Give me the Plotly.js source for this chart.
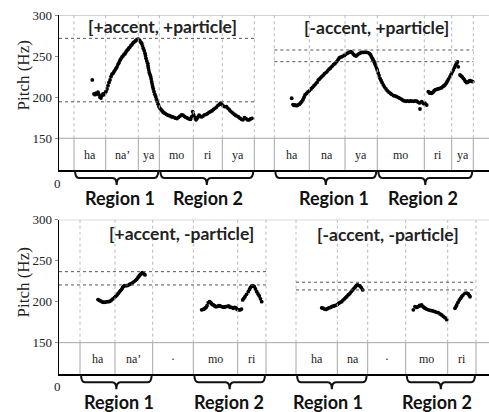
<!DOCTYPE html>
<html><head><meta charset="utf-8">
<script src="https://cdn.plot.ly/plotly-3.0.1.min.js"></script>
<style>html,body{margin:0;padding:0;background:#fff}#chart{width:489px;height:412px}</style>
</head><body><div id="chart"></div>
<script>
// ---------- DATA ----------
// Top-left panel [+accent, +particle]
const tlTime = [92.3,94,95,96,97,98,99,100,101,102,103,104,105,106,107,108,109,110,111,112,113,114,115,116,117,118,119,120,121,122,123,124,125,126,127,128,129,130,131,132,133,134,135,136,137,138,139,140,141,141.7,142.5,143.3,144.2,145,145.5,146,146.8,147.7,148,148.3,148.8,149.3,150,150.7,151.2,151.7,152.2,152.7,153.3,154,154.8,155.7,156.5,157.3,158.2,159,160,161,162,163,164,165,166.5,168,169.5,171,172.5,174,175.5,177,178.5,180,181.5,183,184.5,186,187.5,189,190.5,191.5,192.7,193.5,194.3,195,196,197,198,199,200,201.5,203,204.5,206,207.5,209,210.5,212,213.5,215,216.5,218,219.5,220.7,222,223.5,225,226.5,228,229.5,231,232.5,234,235.5,237,238.5,240,241.5,243,244.5,246,247.5,249,250.5,252];
const tlPitch = [221,204,203,205,204,206,203,200,199,202,204,203,205,207,210,214,218,221,225,228,229,231,233,235,237,240,242,245,247,249,250,252,253,255,257,258,260,261,263,264,266,267,268,269,270,270.5,270,268.5,266.5,265.6,262.5,259.5,256.5,253.4,250.5,247.3,244,241.2,238.5,235.9,233,229.8,227.5,225,222,218.9,216,212.8,210,206.7,203.5,200.6,197.5,194.5,191.5,188.5,186.5,185,183.5,182,181,180.4,179,178,177.5,176.5,176,175.5,174.5,174,175.5,177,178.5,178,176.5,175.5,174.5,173.5,173,176,182.4,179,176,175,172.5,174,176,178,177,176,177,178.5,179,180,181.5,182.5,183.5,185,186.5,188,190,191.5,192.6,191,189,188.5,188.5,186.5,184.5,182.5,181,179.5,178,177,176,174.5,173,172.5,175,174,172.5,172.3,173.5,174.3];
// Top-right panel [-accent, +particle]
const trTime = [291.7,293,294,295,296.5,298,299.5,300.5,301.7,303,304,305,306.5,308,309.5,311,312.5,314,315.5,317,318.3,319.5,320.5,321.7,323,324.5,326,327.5,329,330.5,332,333.5,335,336.7,338,339,340,341.5,343,344.5,346,347.5,349,350.7,352,353.3,354.5,356,357.5,359,360.5,362,363.5,365,366.5,368,369.5,370.7,371.5,372.5,373.3,374,374.8,375.6,376.5,377.3,378.2,379,380,381,382,383.3,384.5,386,387.3,389,390.5,391.7,393.5,395,396.7,398.5,400,401.7,403,404.5,406,407.5,409,410.5,412,413.5,415,416.7,418,419.5,420,421.7,423,424,425,426.7,428.3,429.5,430.5,431.7,433,434,435,436.5,438,439,440,441.5,443,444,445,446.2,447.3,448.5,450,451,452.2,453.3,454.5,455.5,456.7,457.5,458.3,460,461,462,463.3,464.5,465.5,466.7,468,469,470,471.5,472.7];
const trPitch = [198.7,191,190,190.5,189.7,190.5,191.5,193,194.5,197,200,202.7,204.5,206.5,208,210,212,214,216,218,221,222,223.5,225,226.5,228.5,230,232,234,235.5,237.5,239.5,241,243.2,245.5,247.5,248.5,249,250,251,252.5,253.5,254.5,255.4,254.5,252.5,251,250.1,251.5,253,254,254.5,254.6,254.6,254.6,254.3,253,251.3,249,247,245,243.2,241,238.5,235.5,233.1,229.5,226.5,223,220.5,218,214.9,212.5,210,207.9,206,204.5,203.5,202,201.5,200.6,199.5,198.5,197.4,196,195.5,195,195.5,195,195.5,195.3,195,195.5,195.3,194,193,185.6,194.5,193,192,192.6,190.5,206.7,205,205.5,204.8,206,207.5,208.8,209.5,210,210.5,210.8,211.5,213,214,214.9,217,219.5,222,225,227.5,230.5,233.1,236,239,241,243,237,227,226,225,223,221,219,217.7,218.5,219.5,220.1,219.5,218.9];
// Bottom-left panel [+accent, -particle]
const blTime = [98,99.5,101,102.5,104,105.5,107,108.5,110,111.5,113,114.5,115.7,117,118.2,119.5,120.5,121.7,122.7,123.7,125,126.5,128,129.5,131,132.5,134,135.5,136.7,138,139,140,141,142,142.7,143.8,145,201.7,203,204,205,206,207,208.3,209.5,210.7,211.5,212.5,213.3,214.5,215.5,216.7,218,219,220,221.5,223.3,224.5,225.5,226.7,228,229,230,231.5,233.3,234.5,236,237.2,238.5,240,241.5,242.7,243.8,245,246.5,248.3,249.5,250.5,251.7,253,254.3,255.5,256.7,258,259.3,260.5,261.7];
const blPitch = [202.5,201.5,200.5,199.5,199.3,199.5,200,200,200.5,202,203.5,205,206.5,208.2,210,212,213.5,215.1,217.5,219,219.5,219.5,220,221,222,223,224.5,226,227.3,229.5,231,232.6,234,235,235.4,234,232.6,190,190.5,191,192,193,195,198.8,200,199,197.5,196.5,196,195,194,193.9,194.5,195,194.8,194,193.2,193.5,194,194,194.5,194.5,193.2,193,192,193,192.5,190.5,190,189.9,191,202.1,204,206.1,209,212.2,215,217.5,219.1,219.5,218.3,215.5,212.2,209.5,206.9,203.5,200];
// Bottom-right panel [-accent, -particle]
const brTime = [321.7,323,324.5,326,327.5,329,330.5,331.7,333,334.5,336,337.3,338.5,340,341.7,343,344.5,345.7,346.7,348,349,350,351.3,352.7,354,355.3,356.3,357.3,358.5,360,361.3,362.7,413.3,415,416.7,418.3,419.5,420.5,421.7,423,424,425,426.5,428.3,430,431.7,433.3,435,436.5,438.3,440,441.7,443.3,445,446.7,455,456,456.7,458,459.3,460.5,461.7,463,465,466.7,468.3,469.3,470];
const brPitch = [192.5,192,191,190.5,191.5,192.5,193,193.9,194.5,195,195.5,196.5,198,199,200,202,203.5,205,206.1,208,209,210.2,212.3,214.3,216.3,218,219.5,220.4,220,219.1,217,214.3,190,194,193,194,195.5,195,196,194,193,192,191,190,189.5,189,188.5,187.8,187,186.6,185,183.8,182,180.5,178,192,194,196,199,202,204,206,208,210.2,210.5,209.4,207.5,206];

// Syllable segmentation (time boundaries) and labels
const tlBounds = [74,105.7,138.3,159.3,193.3,222.3,254.3];
const tlSyl = ['ha','na’','ya','mo','ri','ya'];
const trBounds = [274.3,309.3,345,377.3,424.3,451.7,473.3];
const trSyl = ['ha','na','ya','mo','ri','ya'];
const blBounds = [80,115,152.7,193.3,237.7,266];
const blSyl = ['ha','na’','·','mo','ri'];
const brBounds = [296,337.3,367.7,405.7,447.7,476];
const brSyl = ['ha','na','·','mo','ri'];

// Reference pitch levels (dotted lines)
const tlRef = [271.6,194.4];
const trRef = [257.4,243.2];
const blRef = [236.6,220.4];
const brRef = [223.7,214.3];

const titles = ['[+accent, +particle]','[-accent, +particle]','[+accent, -particle]','[-accent, -particle]'];
const yTicks = [150,200,250,300];

// ---------- LAYOUT HELPERS ----------
const W = 489, H = 412;
const py = v => 1 - v / H;
const SERIF = 'Liberation Serif';
const SANS = 'Lato';

const panels = [
  {time: tlTime, pitch: tlPitch, bounds: tlBounds, syl: tlSyl, ref: tlRef, refX: [59, tlBounds[6]], xa:'x', ya:'y',
   regions: [[0,3],[3,6]], regionLabelX: [120,208], title: titles[0], titleX: 162, titleY: 27, bottomPx: 170, regionY: 198},
  {time: trTime, pitch: trPitch, bounds: trBounds, syl: trSyl, ref: trRef, refX: [trBounds[0], trBounds[6]], xa:'x', ya:'y',
   regions: [[0,3],[3,6]], regionLabelX: [334,423], title: titles[1], titleX: 376, titleY: 28, bottomPx: 170, regionY: 198},
  {time: blTime, pitch: blPitch, bounds: blBounds, syl: blSyl, ref: blRef, refX: [59, blBounds[5]], xa:'x2', ya:'y2',
   regions: [[0,2],[3,5]], regionLabelX: [119,229], title: titles[2], titleX: 181, titleY: 233, bottomPx: 374.3, regionY: 402},
  {time: brTime, pitch: brPitch, bounds: brBounds, syl: brSyl, ref: brRef, refX: [brBounds[0], brBounds[5]], xa:'x2', ya:'y2',
   regions: [[0,2],[3,5]], regionLabelX: [328,437], title: titles[3], titleX: 388, titleY: 234, bottomPx: 374.3, regionY: 402}
];

const YMIN = 111.4;
const traces = [];
const shapes = [];
const annotations = [];
const GRAY = '#a6a6a6';
const ann = o => Object.assign({showarrow:false, xanchor:'center', yanchor:'middle'}, o);

// frame lines per row
[['x','y'],['x2','y2']].forEach(([xa,ya]) => {
  shapes.push({type:'line', xref:xa, yref:ya, x0:59, x1:489, y0:150, y1:150, line:{color:GRAY, width:1}});
  shapes.push({type:'line', xref:xa, yref:ya, x0:59, x1:489, y0:300, y1:300, line:{color:GRAY, width:1}});
});

panels.forEach(p => {
  traces.push({x: p.time, y: p.pitch, xaxis: p.xa, yaxis: p.ya, type:'scatter', mode:'markers',
    marker:{color:'#000', size:3.8}, hoverinfo:'skip', showlegend:false, cliponaxis:false});
  p.bounds.forEach(b => {
    shapes.push({type:'line', xref:p.xa, yref:p.ya, x0:b, x1:b, y0:YMIN, y1:150, line:{color:GRAY, width:1}});
    shapes.push({type:'line', xref:p.xa, yref:p.ya, x0:b, x1:b, y0:150, y1:300, line:{color:'#b8b8b8', width:1, dash:'dot'}});
  });
  p.ref.forEach(r => {
    shapes.push({type:'line', xref:p.xa, yref:p.ya, x0:p.refX[0], x1:p.refX[1], y0:r, y1:r, line:{color:'#555', width:1, dash:'dot'}});
  });
  p.syl.forEach((s,i) => {
    annotations.push(ann({xref:p.xa, yref:p.ya, x:(p.bounds[i]+p.bounds[i+1])/2, y:130, text:s,
      font:{family:SERIF, size:12, color:'#222'}}));
  });
  // brackets
  p.regions.forEach((rg,k) => {
    const x0 = p.bounds[rg[0]] + 1, x1 = p.bounds[rg[1]] - 1, m = (x0 + x1)/2;
    const yt = py(p.bottomPx), yh = py(p.bottomPx + 8), yp = py(p.bottomPx + 15);
    const path = `M${x0},${yt} Q${x0},${yh} ${x0+4},${yh} L${m-4},${yh} Q${m},${yh} ${m},${yp} Q${m},${yh} ${m+4},${yh} L${x1-4},${yh} Q${x1},${yh} ${x1},${yt}`;
    shapes.push({type:'path', xref:p.xa, yref:'paper', path, line:{color:'#111', width:2}});
    annotations.push(ann({xref:p.xa, yref:'paper', x:p.regionLabelX[k], y:py(p.regionY), text:'<b>Region '+(k+1)+'</b>',
      font:{family:SANS, size:18, color:'#111'}}));
  });
  annotations.push(ann({xref:p.xa, yref:'paper', x:p.titleX, y:py(p.titleY), text:'<b>'+p.title+'</b>',
    font:{family:SANS, size:17.5, color:'#222'}}));
});

// y-axis titles and broken-axis "0"
[[76,183],[283,386.5]].forEach(([ty,zy]) => {
  annotations.push(ann({xref:'paper', yref:'paper', x:22.5/W, y:py(ty), text:'Pitch (Hz)', textangle:-90,
    font:{family:SERIF, size:17, color:'#222'}}));
  annotations.push(ann({xref:'paper', yref:'paper', x:57/W, y:py(zy), text:'0',
    font:{family:SERIF, size:13, color:'#222'}}));
});

const xBase = {range:[59,489], domain:[59/W,1], showgrid:false, zeroline:false, showticklabels:false, ticks:'',
  showline:true, linecolor:'#000', linewidth:1.5, fixedrange:true};
const yBase = {range:[YMIN,300], tickvals:yTicks, ticktext:yTicks.map(String), showgrid:false, zeroline:false,
  ticks:'outside', ticklen:3, tickcolor:'#888', showline:true, linecolor:'#000', linewidth:1.5,
  tickfont:{family:SERIF, size:13, color:'#222'}, fixedrange:true};

const layout = {
  width:W, height:H, margin:{l:0,r:0,t:0,b:0}, paper_bgcolor:'#fff', plot_bgcolor:'#fff', showlegend:false,
  font:{family:SERIF},
  xaxis: Object.assign({}, xBase, {anchor:'y'}),
  yaxis: Object.assign({}, yBase, {anchor:'x', domain:[py(170), py(15)]}),
  xaxis2: Object.assign({}, xBase, {anchor:'y2'}),
  yaxis2: Object.assign({}, yBase, {anchor:'x2', domain:[py(374.3), py(219.7)]}),
  shapes, annotations
};

Plotly.newPlot('chart', traces, layout, {staticPlot:true, displayModeBar:false});
</script>
</body></html>
